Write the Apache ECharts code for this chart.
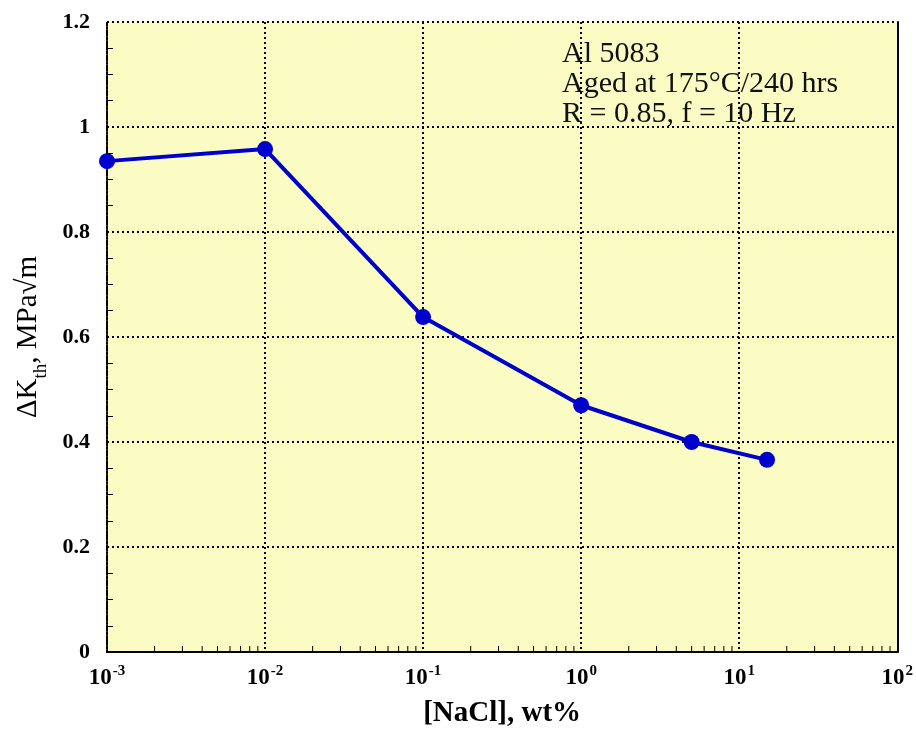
<!DOCTYPE html>
<html>
<head>
<meta charset="utf-8">
<style>
  html, body { margin: 0; padding: 0; background: #ffffff; }
  #chart { width: 916px; height: 733px; }
</style>
<script src="https://cdn.jsdelivr.net/npm/echarts@6/dist/echarts.min.js"></script>
</head>
<body>
<div id="chart"></div>
<script>
// NaCl concentration (wt%) and threshold stress intensity range (MPa√m)
const naclConc = [0.001, 0.01, 0.1, 1, 5, 15];
const deltaKth = [0.935, 0.958, 0.638, 0.470, 0.400, 0.366];

// Axis extents and label sets
const xMin = 0.001, xMax = 100;
const yMin = 0, yMax = 1.2, yStep = 0.2;
const annotationLines = ['Al 5083', 'Aged at 175°C/240 hrs', 'R = 0.85, f = 10 Hz'];

// Minor tick positions for the log axis: 2..9 within each decade
const xMinorTicks = [];
for (let e = -3; e < 2; e++) {
  for (let m = 2; m <= 9; m++) xMinorTicks.push([m * Math.pow(10, e)]);
}

const serif = '"Liberation Serif", "Times New Roman", serif';
const dotted = { color: '#000', width: 2, type: [2, 3] };
const frameDots = { color: '#000', width: 2, type: [2, 1.5] };

const chart = echarts.init(document.getElementById('chart'), null, { renderer: 'canvas' });

chart.setOption({
  backgroundColor: '#ffffff',
  animation: false,
  grid: {
    left: 107, top: 22, right: 16, bottom: 81,
    show: true, backgroundColor: '#fafcc3', borderWidth: 0
  },
  xAxis: [{
    type: 'log',
    logBase: 10,
    min: xMin,
    max: xMax,
    position: 'bottom',
    name: '[NaCl], wt%',
    nameLocation: 'middle',
    nameGap: 47,
    nameTextStyle: { fontFamily: serif, fontWeight: 'bold', fontSize: 29, color: '#000' },
    axisLine: { show: true, lineStyle: frameDots },
    axisTick: { show: false },
    splitLine: { show: true, lineStyle: dotted },
    axisLabel: {
      margin: 12,
      fontFamily: serif,
      formatter: function (v) {
        const e = Math.round(Math.log10(v));
        return '{b|10}{s|' + e + '}';
      },
      rich: {
        b: { fontFamily: serif, fontWeight: 'bold', fontSize: 23, color: '#000', lineHeight: 26, verticalAlign: 'bottom' },
        s: { fontFamily: serif, fontWeight: 'bold', fontSize: 15, color: '#000', lineHeight: 26, verticalAlign: 'top', padding: [0, 0, 0, 1] }
      }
    }
  }, {
    type: 'log',
    logBase: 10,
    min: xMin,
    max: xMax,
    position: 'top',
    axisLine: { show: true, lineStyle: frameDots },
    axisTick: { show: false },
    axisLabel: { show: false },
    splitLine: { show: false }
  }],
  yAxis: [{
    type: 'value',
    min: yMin,
    max: yMax,
    interval: yStep,
    position: 'left',
    name: '{a|ΔK}{sub|th}{a|, MPa√m}',
    nameLocation: 'middle',
    nameRotate: 90,
    nameGap: 56,
    nameTextStyle: {
      rich: {
        a: { fontFamily: serif, fontSize: 29, color: '#000', padding: [0, 0, 8, 0], verticalAlign: 'bottom' },
        sub: { fontFamily: serif, fontSize: 19, color: '#000', verticalAlign: 'bottom' }
      }
    },
    axisLine: { show: true, lineStyle: frameDots },
    axisTick: { show: false, inside: true },
    minorTick: { show: true, splitNumber: 4, length: 6, lineStyle: { color: '#000', width: 1 } },
    splitLine: { show: true, lineStyle: dotted },
    axisLabel: {
      margin: 17,
      fontFamily: serif,
      fontWeight: 'bold',
      fontSize: 22,
      color: '#000'
    }
  }, {
    type: 'value',
    min: yMin,
    max: yMax,
    interval: yStep,
    position: 'right',
    axisLine: { show: true, lineStyle: { color: '#000', width: 2 } },
    axisTick: { show: false },
    axisLabel: { show: false },
    splitLine: { show: false }
  }],
  graphic: [{
    type: 'text',
    left: 562,
    top: 39,
    z: 10,
    style: {
      text: annotationLines.join('\n'),
      fontFamily: serif,
      fontSize: 30,
      lineHeight: 30,
      fill: '#111'
    }
  }],
  series: [{
    type: 'custom',
    xAxisIndex: 0,
    yAxisIndex: 0,
    silent: true,
    clip: false,
    z: 1,
    data: xMinorTicks,
    encode: { x: 0 },
    renderItem: function (params, api) {
      const p = api.coord([api.value(0), yMin]);
      return {
        type: 'line',
        shape: { x1: p[0], y1: p[1], x2: p[0], y2: p[1] - 6 },
        style: { stroke: '#000', lineWidth: 1 }
      };
    }
  }, {
    type: 'line',
    xAxisIndex: 0,
    yAxisIndex: 0,
    data: naclConc.map((x, i) => [x, deltaKth[i]]),
    symbol: 'circle',
    symbolSize: 16,
    z: 5,
    lineStyle: { color: '#0000cc', width: 4 },
    itemStyle: { color: '#0000cc' }
  }]
});
</script>
</body>
</html>
